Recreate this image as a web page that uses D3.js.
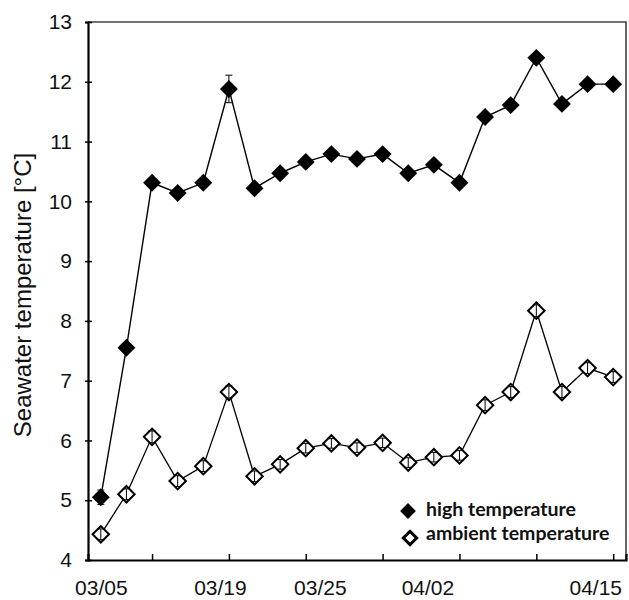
<!DOCTYPE html>
<html>
<head>
<meta charset="utf-8">
<script src="https://cdn.jsdelivr.net/npm/d3@7"></script>
<style>
  body { margin: 0; background: #fff; }
  .tick text { font-family: "Liberation Sans", Arial, sans-serif; }
</style>
</head>
<body>
<div id="myChart"></div>
<script>

// data, one point every sampling day (index 0..20)
var sampleIdx = [0,1,2,3,4,5,6,7,8,9,10,11,12,13,14,15,16,17,18,19,20];
var highTemp = [5.05, 7.55, 10.31, 10.14, 10.31, 11.88, 10.22, 10.47, 10.66, 10.79, 10.71,
                10.79, 10.47, 10.61, 10.31, 11.41, 11.61, 12.40, 11.63, 11.96, 11.96];
var highErr  = [0.12, 0.08, 0.06, 0.06, 0.06, 0.23, 0.06, 0.05, 0.05, 0.05, 0.05,
                0.05, 0.05, 0.05, 0.05, 0.06, 0.06, 0.06, 0.05, 0.05, 0.05];
var ambTemp  = [4.43, 5.10, 6.06, 5.32, 5.57, 6.81, 5.40, 5.60, 5.87, 5.95, 5.88,
                5.96, 5.63, 5.72, 5.75, 6.59, 6.81, 8.17, 6.81, 7.21, 7.06];
var ambErr   = [0.09, 0.09, 0.10, 0.09, 0.09, 0.10, 0.09, 0.08, 0.08, 0.08, 0.08,
                0.08, 0.08, 0.08, 0.08, 0.09, 0.09, 0.10, 0.09, 0.09, 0.09];

// axis ticks and labels
var yTicks = [4,5,6,7,8,9,10,11,12,13];
var xTickIdx = [2,5,8,11,14,17,20];
var xTickLabels = ["03/05","03/19","03/25","04/02","04/15"];
var xLabelIdx = [0, 4.65, 8.55, 12.75, 19.3];

var seriesNames = ["high temperature", "ambient temperature"];


// Main svg window sizes
var width = 629;
var height = 600;
var padding = {top:22, right:3, bottom:40, left:88};
var charArea = {
	"width": width - padding.left - padding.right,
	"height": height - padding.top - padding.bottom
};

var canvass = d3.select("#myChart")
	.append("svg")
	.attr("width", width)
	.attr("height", height)
	.style("background", "#fff");

var xScale = d3.scaleLinear()
	.domain([-0.5, 20.5])
	.range([0, charArea.width]);

var yScale = d3.scaleLinear()
	.domain([4, 13])
	.range([charArea.height, 0]);

var g = canvass.append("g")
	.attr("transform", "translate(" + padding.left + "," + padding.top + ")");

// frame (top and right sides)
g.append("path")
	.attr("d", "M0,0H" + charArea.width + "V" + charArea.height)
	.attr("fill", "none")
	.attr("stroke", "#444")
	.attr("stroke-width", 1.6);

// y axis
var yAxis = g.append("g")
	.call(d3.axisLeft(yScale).tickValues(yTicks).tickSize(3).tickPadding(13));
yAxis.select(".domain").attr("stroke", "#000").attr("stroke-width", 2.2);
yAxis.selectAll(".tick line").attr("x2", -3).attr("x1", 4).attr("stroke-width", 1.5);
yAxis.selectAll(".tick text").style("font-size", "21px").attr("fill", "#111");

// x axis : ticks
var xAxis = g.append("g")
	.attr("transform", "translate(0," + charArea.height + ")")
	.call(d3.axisBottom(xScale).tickValues(xTickIdx).tickSize(-6).tickFormat(""));
xAxis.select(".domain").attr("stroke", "#000").attr("stroke-width", 2.2);
xAxis.selectAll(".tick line").attr("stroke-width", 1.5);

// x axis : labels
var xLab = g.append("g")
	.attr("transform", "translate(0," + charArea.height + ")")
	.call(d3.axisBottom(xScale).tickValues(xLabelIdx).tickSize(0).tickPadding(20)
		.tickFormat(function(d, i) { return xTickLabels[i]; }));
xLab.select(".domain").remove();
xLab.selectAll(".tick text").style("font-size", "21px").attr("fill", "#111");

// y axis title
canvass.append("text")
	.attr("transform", "translate(31," + (padding.top + 273) + ") rotate(-90)")
	.style("text-anchor", "middle")
	.style("font-family", "'Liberation Sans', Arial, sans-serif")
	.style("font-size", "24px")
	.attr("fill", "#111")
	.text("Seawater temperature [°C]");


// line generators
var line = d3.line()
	.x(function(d, i) { return xScale(sampleIdx[i]); })
	.y(function(d) { return yScale(d); });

var diamond = d3.symbol().type(d3.symbolSquare);

function drawErr(vals, errs) {
	var eg = g.append("g").attr("stroke", "#000").attr("stroke-width", 1);
	eg.selectAll("line.v")
		.data(vals)
		.enter()
		.append("line")
		.attr("x1", function(d, i) { return xScale(sampleIdx[i]); })
		.attr("x2", function(d, i) { return xScale(sampleIdx[i]); })
		.attr("y1", function(d, i) { return yScale(d - errs[i]); })
		.attr("y2", function(d, i) { return yScale(d + errs[i]); });
	eg.selectAll("line.cap")
		.data(vals)
		.enter()
		.append("line")
		.attr("x1", function(d, i) { return xScale(sampleIdx[i]) - 3.5; })
		.attr("x2", function(d, i) { return xScale(sampleIdx[i]) + 3.5; })
		.attr("y1", function(d, i) { return yScale(d + errs[i]); })
		.attr("y2", function(d, i) { return yScale(d + errs[i]); });
	eg.selectAll("line.cap2")
		.data(vals)
		.enter()
		.append("line")
		.attr("x1", function(d, i) { return xScale(sampleIdx[i]) - 3.5; })
		.attr("x2", function(d, i) { return xScale(sampleIdx[i]) + 3.5; })
		.attr("y1", function(d, i) { return yScale(d - errs[i]); })
		.attr("y2", function(d, i) { return yScale(d - errs[i]); });
}

// ambient series
g.append("path")
	.attr("fill", "none")
	.attr("stroke", "#000")
	.attr("stroke-width", 1.3)
	.attr("d", line(ambTemp));

g.selectAll(".ambdot")
	.data(ambTemp)
	.enter()
	.append("path")
	.attr("class", "ambdot")
	.attr("d", diamond.size(135)())
	.attr("transform", function(d, i) {
		return "translate(" + xScale(sampleIdx[i]) + "," + yScale(d) + ") rotate(45)";
	})
	.attr("fill", "#fff")
	.attr("stroke", "#000")
	.attr("stroke-width", 2);

drawErr(ambTemp, ambErr);

// high series
drawErr(highTemp, highErr);

g.append("path")
	.attr("fill", "none")
	.attr("stroke", "#000")
	.attr("stroke-width", 1.4)
	.attr("d", line(highTemp));

g.selectAll(".highdot")
	.data(highTemp)
	.enter()
	.append("path")
	.attr("class", "highdot")
	.attr("d", diamond.size(160)())
	.attr("transform", function(d, i) {
		return "translate(" + xScale(sampleIdx[i]) + "," + yScale(d) + ") rotate(45)";
	})
	.attr("fill", "#000");


// legend
var legend = canvass.append("g").attr("transform", "translate(408,511)");
legend.append("path")
	.attr("d", diamond.size(125)())
	.attr("transform", "rotate(45)")
	.attr("fill", "#000");
legend.append("path")
	.attr("d", diamond.size(90)())
	.attr("transform", "translate(2,27) rotate(45)")
	.attr("fill", "#fff")
	.attr("stroke", "#000")
	.attr("stroke-width", 3);
legend.selectAll(".lt")
	.data(seriesNames)
	.enter()
	.append("text")
	.attr("x", 18)
	.attr("y", function(d, i) { return 5 + i * 24; })
	.style("font-family", "Lato, sans-serif")
	.style("font-size", "19.5px")
	.style("font-weight", "bold")
	.attr("fill", "#111")
	.text(function(d) { return d; });

</script>
</body>
</html>
